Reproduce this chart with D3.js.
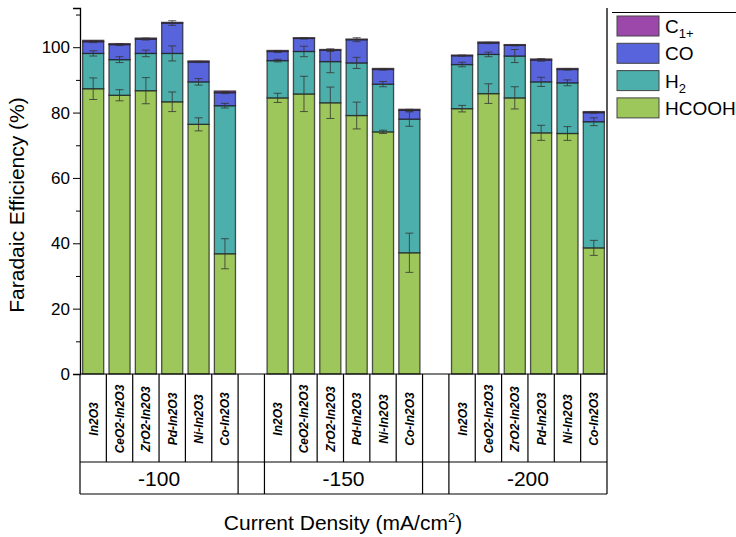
<!DOCTYPE html>
<html>
<head>
<meta charset="utf-8">
<script src="https://cdn.jsdelivr.net/npm/d3@7"></script>
<style>
  body { margin: 0; background: #fff; }
  svg { font-family: "Liberation Sans", Arial, sans-serif; }
</style>
</head>
<body>
<svg id="chart" width="736" height="537"></svg>
<script>
// categories
const groups = ["-100", "-150", "-200"];
const catalysts = ["In2O3", "CeO2-In2O3", "ZrO2-In2O3", "Pd-In2O3", "Ni-In2O3", "Co-In2O3"];
const seriesKeys = ["HCOOH", "H2", "CO", "C1+"];

// values per group (6 catalysts each), segment heights in %
const hcooh = [
  [87.3, 85.3, 86.7, 83.3, 76.4, 36.8],
  [84.5, 85.7, 83.0, 79.1, 74.1, 37.1],
  [81.2, 85.8, 84.5, 73.8, 73.6, 38.6]
];
const h2 = [
  [10.8, 10.9, 11.4, 14.8, 13.0, 45.3],
  [11.4, 13.0, 12.6, 16.1, 14.6, 40.9],
  [13.5, 12.0, 12.8, 15.6, 15.5, 38.6]
];
const co = [
  [3.6, 4.6, 4.4, 9.3, 6.1, 4.0],
  [2.8, 4.0, 3.5, 7.1, 4.5, 2.7],
  [2.7, 3.5, 3.3, 6.7, 4.1, 2.8]
];
const c1 = [
  [0.4, 0.3, 0.3, 0.2, 0.3, 0.5],
  [0.3, 0.2, 0.2, 0.2, 0.3, 0.3],
  [0.2, 0.3, 0.2, 0.3, 0.3, 0.3]
];
// error bars (drawn at the cumulative top of each segment)
const hcoohErr = [
  [3.3, 1.7, 4.0, 3.0, 2.0, 4.6],
  [1.4, 5.4, 4.8, 4.1, 0.5, 6.0],
  [1.0, 3.0, 3.4, 2.3, 2.1, 2.3]
];
const h2Err = [
  [0.8, 0.9, 1.0, 2.3, 1.0, 0.7],
  [0.4, 1.6, 3.4, 1.7, 0.8, 2.2],
  [0.7, 0.7, 2.0, 1.4, 0.9, 1.2]
];
const coErr = [
  [0.3, 0.3, 0.3, 0.7, 0.2, 0.3],
  [0.3, 0.2, 0.4, 0.6, 0.2, 0.3],
  [0.2, 0.2, 0.2, 0.4, 0.2, 0.2]
];
const yTicks = [0, 20, 40, 60, 80, 100];
const yMinor = [10, 30, 50, 70, 90, 110];

const colors = {
  "HCOOH": "#9dc75b",
  "H2": "#4cafab",
  "CO": "#5864dc",
  "C1+": "#9c48ab"
};

// build flat rows
const rows = [];
const slots = [];
groups.forEach((g, gi) => {
  catalysts.forEach((c, ci) => {
    const key = g + "|" + c;
    slots.push(key);
    rows.push({
      key, group: g, cat: c,
      "HCOOH": hcooh[gi][ci], "H2": h2[gi][ci], "CO": co[gi][ci], "C1+": c1[gi][ci],
      errs: [hcoohErr[gi][ci], h2Err[gi][ci], coErr[gi][ci]]
    });
  });
  if (gi < groups.length - 1) slots.push("gap" + gi);
});

const svg = d3.select("#chart");
const plotL = 80, plotR = 607, plotT = 8, plotB = 374;

const x = d3.scaleBand().domain(slots).range([plotL, plotR])
  .paddingInner(0.2).paddingOuter(0.1);
const y = d3.scaleLinear().domain([0, 112]).range([plotB, plotT]);

const stack = d3.stack().keys(seriesKeys)(rows);

// bars
const layer = svg.append("g").selectAll("g").data(stack).enter().append("g")
  .attr("fill", d => colors[d.key]);
layer.selectAll("rect").data(d => d).enter().append("rect")
  .attr("x", d => x(d.data.key))
  .attr("width", x.bandwidth())
  .attr("y", d => y(d[1]))
  .attr("height", d => y(d[0]) - y(d[1]))
  .attr("stroke", "#1d1d1d")
  .attr("stroke-opacity", 0.75)
  .attr("stroke-width", 1.3);

// error bars
const errG = svg.append("g").attr("stroke", "#333").attr("stroke-opacity", 0.8).attr("stroke-width", 1);
rows.forEach(r => {
  const cx = x(r.key) + x.bandwidth() / 2;
  let cum = 0;
  ["HCOOH", "H2", "CO"].forEach((k, i) => {
    cum += r[k];
    const e = r.errs[i];
    const y1 = y(cum + e), y2 = y(cum - e);
    errG.append("line").attr("x1", cx).attr("x2", cx).attr("y1", y1).attr("y2", y2);
    errG.append("line").attr("x1", cx - 4).attr("x2", cx + 4).attr("y1", y1).attr("y2", y1);
    errG.append("line").attr("x1", cx - 4).attr("x2", cx + 4).attr("y1", y2).attr("y2", y2);
  });
});

// y axis
const yAxis = svg.append("g").attr("transform", `translate(${plotL},0)`)
  .call(d3.axisLeft(y).tickValues(yTicks).tickSize(7).tickPadding(3));
yAxis.selectAll("text").attr("font-size", 17).attr("fill", "#000")
  .attr("font-family", "'Liberation Sans', Arial, sans-serif");
yAxis.select(".domain").attr("stroke-width", 1.3);
svg.append("g").attr("transform", `translate(${plotL},0)`)
  .call(d3.axisLeft(y).tickValues(yMinor).tickSize(4).tickFormat(""))
  .select(".domain").remove();

// right frame line
svg.append("line").attr("x1", plotR).attr("x2", plotR).attr("y1", plotT).attr("y2", plotB)
  .attr("stroke", "#000").attr("stroke-width", 1.3);

// y title
svg.append("text").attr("transform", "translate(24,205) rotate(-90)")
  .attr("text-anchor", "middle").attr("font-size", 21).text("Faradaic Efficiency (%)");

// table under the axis
const row1b = 462, row2b = 494;
const half = x.step() * x.paddingInner() / 2;
const tbl = svg.append("g").attr("stroke", "#000").attr("stroke-width", 1.2);
tbl.append("line").attr("x1", plotL).attr("x2", plotR).attr("y1", plotB).attr("y2", plotB);
tbl.append("line").attr("x1", plotL).attr("x2", plotR).attr("y1", row1b).attr("y2", row1b);
tbl.append("line").attr("x1", plotL).attr("x2", plotR).attr("y1", row2b).attr("y2", row2b);
slots.forEach(s => {
  const xs = x(s) - half;
  tbl.append("line").attr("x1", xs).attr("x2", xs).attr("y1", plotB).attr("y2", row1b);
});
tbl.append("line").attr("x1", plotR).attr("x2", plotR).attr("y1", plotB).attr("y2", row2b);
// group cell borders in second row
slots.forEach((s, i) => {
  if (i === 0 || s.startsWith("gap") || (i > 0 && slots[i - 1].startsWith("gap"))) {
    const xs = x(s) - half;
    tbl.append("line").attr("x1", xs).attr("x2", xs).attr("y1", row1b).attr("y2", row2b);
  }
});

// catalyst labels (rotated)
svg.append("g").selectAll("text").data(rows).enter().append("text")
  .attr("transform", d => `translate(${x(d.key) + x.bandwidth() / 2 + 4.5},419) rotate(-90)`)
  .attr("text-anchor", "middle")
  .attr("font-size", 12).attr("font-weight", "bold").attr("font-style", "italic")
  .text(d => d.cat);

// group labels
groups.forEach(g => {
  const first = x(g + "|" + catalysts[0]) - half;
  const last = x(g + "|" + catalysts[catalysts.length - 1]) + x.bandwidth() + half;
  svg.append("text").attr("x", (first + last) / 2).attr("y", 486)
    .attr("text-anchor", "middle").attr("font-size", 21).text(g);
});

// x title
const xt = svg.append("text").attr("x", 343).attr("y", 530).attr("text-anchor", "middle").attr("font-size", 21);
xt.append("tspan").text("Current Density (mA/cm");
xt.append("tspan").attr("font-size", 13).attr("dy", -8).text("2");
xt.append("tspan").attr("dy", 8).text(")");

// legend
const legend = svg.append("g");
legend.append("line").attr("x1", 612).attr("x2", 736).attr("y1", 12.5).attr("y2", 12.5)
  .attr("stroke", "#000").attr("stroke-width", 1);
const legItems = ["C1+", "CO", "H2", "HCOOH"];
legItems.forEach((k, i) => {
  const yy = 16 + i * 27.3;
  legend.append("rect").attr("x", 617).attr("y", yy).attr("width", 42).attr("height", 20)
    .attr("fill", colors[k]).attr("stroke", "#444").attr("stroke-width", 1);
  const t = legend.append("text").attr("x", 665).attr("y", yy + 17).attr("font-size", 19);
  if (k === "C1+") {
    t.append("tspan").text("C");
    t.append("tspan").attr("font-size", 13).attr("dy", 5).text("1+");
  } else if (k === "H2") {
    t.append("tspan").text("H");
    t.append("tspan").attr("font-size", 13).attr("dy", 5).text("2");
  } else {
    t.text(k);
  }
});
</script>
</body>
</html>
